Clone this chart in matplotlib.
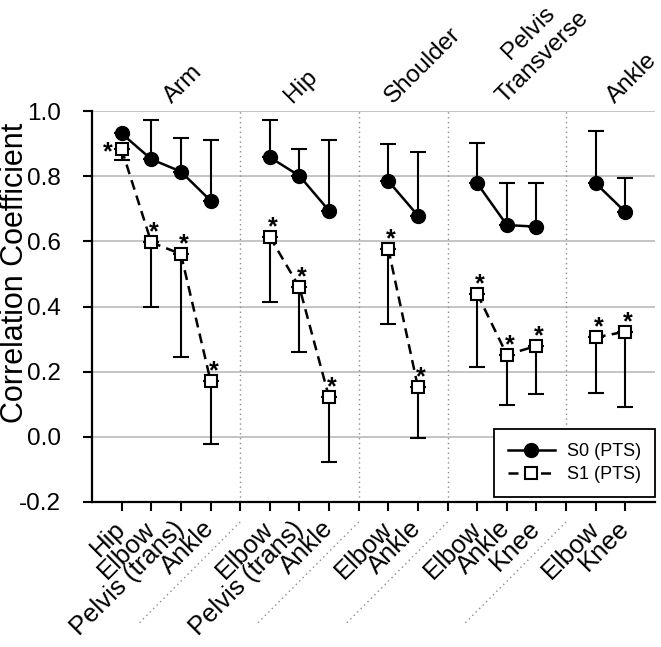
import matplotlib
matplotlib.use("Agg")
import matplotlib.pyplot as plt
from matplotlib.lines import Line2D

plt.rcParams['font.family'] = ['Liberation Sans', 'DejaVu Sans']

# ---------------- data ----------------
groups = ['Arm', 'Hip', 'Shoulder', 'Pelvis\nTransverse', 'Ankle']
group_members = [
    ['Hip', 'Elbow', 'Pelvis (trans)', 'Ankle'],
    ['Elbow', 'Pelvis (trans)', 'Ankle'],
    ['Elbow', 'Ankle'],
    ['Elbow', 'Ankle', 'Knee'],
    ['Elbow', 'Knee'],
]
s0_mean = [[0.931, 0.852, 0.814, 0.725],
           [0.858, 0.801, 0.694],
           [0.785, 0.679],
           [0.778, 0.650, 0.645],
           [0.778, 0.690]]
s0_upper = [[0.931, 0.972, 0.918, 0.911],
            [0.972, 0.883, 0.911],
            [0.898, 0.875],
            [0.901, 0.778, 0.780],
            [0.940, 0.794]]
s1_mean = [[0.883, 0.597, 0.561, 0.172],
           [0.614, 0.459, 0.121],
           [0.577, 0.152],
           [0.439, 0.252, 0.279],
           [0.305, 0.323]]
s1_lower = [[0.850, 0.400, 0.244, -0.022],
            [0.414, 0.260, -0.078],
            [0.346, -0.003],
            [0.213, 0.098, 0.132],
            [0.134, 0.091]]
# asterisk marks (significant) - placement: 'l' left, 'u' above
s1_star = [['l', 'u', 'u', 'u'],
           ['u', 'u', 'u'],
           ['u', 'u'],
           ['u', 'u', 'u'],
           ['u', 'u']]
series_labels = ['S0 (PTS)', 'S1 (PTS)']
y_ticks = [-0.2, 0.0, 0.2, 0.4, 0.6, 0.8, 1.0]

# group label anchor x (data units, layout)
group_label_x = [2.3, 6.35, 9.75, 13.5, 17.25]

# ---------------- figure ----------------
W, H = 661, 647
fig = plt.figure(figsize=(W / 100, H / 100), dpi=100)
ax = fig.add_axes([92 / W, 1 - 502 / H, (655 - 92) / W, (502 - 111) / H])
ax.set_xlim(0, 19)
ax.set_ylim(-0.2, 1.0)

grid_c = '#b4b4b4'
for yv in y_ticks[1:]:
    ax.axhline(yv, color=grid_c, lw=1.1, zorder=0)

pos = 1
tick_pos, tick_lab, seps = [], [], []
for gi, members in enumerate(group_members):
    xs = list(range(pos, pos + len(members)))
    tick_pos += xs
    tick_lab += members
    m0 = s0_mean[gi]
    m1 = s1_mean[gi]
    up = [u - m for u, m in zip(s0_upper[gi], m0)]
    lo = [m - l for l, m in zip(s1_lower[gi], m1)]
    ax.errorbar(xs, m0, yerr=[[0] * len(xs), up], fmt='none', ecolor='black',
                elinewidth=1.5, capsize=6, capthick=1.5, zorder=2)
    ax.errorbar(xs, m1, yerr=[lo, [0] * len(xs)], fmt='none', ecolor='black',
                elinewidth=1.5, capsize=6, capthick=1.5, zorder=2)
    ax.plot(xs, m0, '-', color='black', lw=1.8, marker='o', ms=10,
            mfc='black', mec='black', zorder=4)
    ax.plot(xs, m1, '--', color='black', lw=1.8, dashes=(4, 2.5), marker='s',
            ms=8.5, mfc='white', mec='black', mew=1.5, zorder=4)
    for x, m, side in zip(xs, m1, s1_star[gi]):
        if side == 'l':
            off = (-10, -2)
        else:
            off = (2, 7)
        ax.annotate('*', xy=(x, m), xytext=off, textcoords='offset points',
                    ha='center', va='center', fontsize=18, fontweight='bold',
                    zorder=5)
    pos += len(members)
    if gi < len(group_members) - 1:
        seps.append(pos)
        tick_pos.append(pos)
        tick_lab.append('')
        pos += 1

for s in seps:
    ax.axvline(s, color='#8c8c8c', lw=1.0, ls=(0, (1, 2.5)), zorder=1)

ax.set_xticks(tick_pos)
ax.set_xticklabels(tick_lab, rotation=45, ha='right', va='center',
                   rotation_mode='anchor', fontsize=18.5)
ax.set_yticks(y_ticks)
ax.set_yticklabels([f'{v:.1f}' for v in y_ticks], fontsize=17.5)
ax.set_ylabel('Correlation Coefficient', fontsize=22, va='top')
ax.yaxis.set_label_coords(-1 / 563 * 92, 0.585)

for side in ['top', 'right']:
    ax.spines[side].set_visible(False)
for side in ['left', 'bottom']:
    ax.spines[side].set_linewidth(1.6)
ax.tick_params(axis='both', direction='out', width=1.5, length=6.5, colors='black')
ax.tick_params(axis='x', pad=10)
ax.tick_params(axis='y', pad=16)

# diagonal dotted separator continuations below the axis
fig.canvas.draw()
for s in seps:
    px, py = ax.transData.transform((s, -0.2))
    y0 = py - 20
    y1 = py - 121
    fig.add_artist(Line2D([px / W, (px - 101) / W], [y0 / H, y1 / H],
                          transform=fig.transFigure, color='#8c8c8c', lw=1.0,
                          ls=(0, (1, 2.5))))

# group labels (multi-line labels drawn line by line, centred)
for lab, gx in zip(groups, group_label_x):
    lines = lab.split('\n')
    for k, line in enumerate(reversed(lines)):
        ax.annotate(line, xy=(gx, 1.012), xycoords='data',
                    xytext=(6 * k, 44 * k), textcoords='offset pixels',
                    rotation=45, ha='left', va='bottom', fontsize=17.5,
                    annotation_clip=False)

handles = [
    Line2D([], [], color='black', lw=1.8, marker='o', ms=10, mfc='black'),
    Line2D([], [], color='black', lw=1.8, ls='--', dashes=(4, 2.5), marker='s',
           ms=8.5, mfc='white', mec='black', mew=1.5),
]
leg = ax.legend(handles, series_labels, loc='lower right',
                bbox_to_anchor=(1.0, 0.013), borderaxespad=0, fontsize=13,
                frameon=True, fancybox=False, framealpha=1, edgecolor='black',
                handlelength=2.6, handletextpad=0.7, labelspacing=0.36,
                borderpad=0.75)
leg.get_frame().set_linewidth(1.3)
leg.set_zorder(6)

fig.savefig('out.png', dpi=100)
